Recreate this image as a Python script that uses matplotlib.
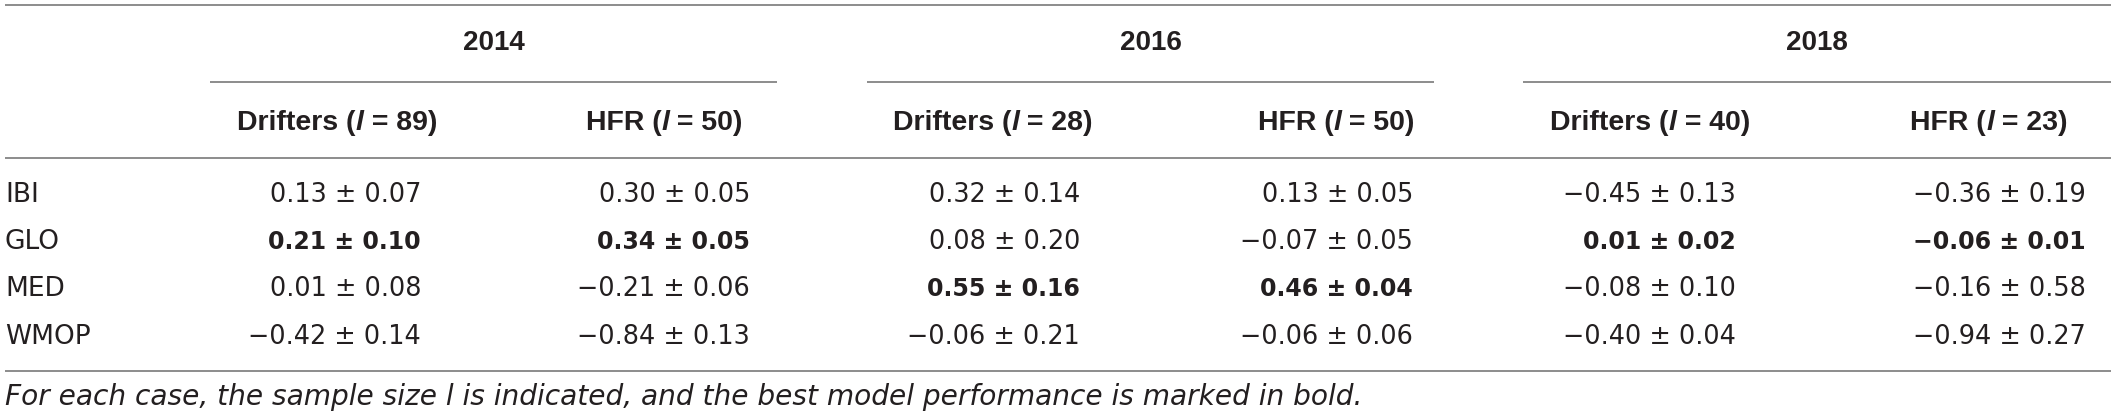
import matplotlib
matplotlib.use("Agg")
import matplotlib.pyplot as plt

# table content
years = ["2014", "2016", "2018"]
sources = ["Drifters", "HFR", "Drifters", "HFR", "Drifters", "HFR"]
sample_sizes = [89, 50, 28, 50, 40, 23]
models = ["IBI", "GLO", "MED", "WMOP"]
means = [
    [0.13, 0.30, 0.32, 0.13, -0.45, -0.36],
    [0.21, 0.34, 0.08, -0.07, 0.01, -0.06],
    [0.01, -0.21, 0.55, 0.46, -0.08, -0.16],
    [-0.42, -0.84, -0.06, -0.06, -0.40, -0.94],
]
errors = [
    [0.07, 0.05, 0.14, 0.05, 0.13, 0.19],
    [0.10, 0.05, 0.20, 0.05, 0.02, 0.01],
    [0.08, 0.06, 0.16, 0.04, 0.10, 0.58],
    [0.14, 0.13, 0.21, 0.06, 0.04, 0.27],
]
# index of best model (bold) per column
best = [1, 1, 2, 2, 1, 1]
footnote = "For each case, the sample size l is indicated, and the best model performance is marked in bold."

W, H = 2117, 420
fig = plt.figure(figsize=(W / 100, H / 100), dpi=100)
ax = fig.add_axes([0, 0, 1, 1])
ax.set_xlim(0, W)
ax.set_ylim(H, 0)
ax.axis("off")

HEAD = "Liberation Sans"
BODY = "DejaVu Sans"
LINE = "#8c8c8c"
TXT = "#231f20"

# layout (pixels)
year_spans = [(210, 777), (867, 1434), (1523, 2111)]
head_cx = [337, 664, 993, 1336, 1650, 1989]
val_right = [421, 750, 1080, 1413, 1736, 2086]
row_y = [195, 242, 289, 337]

# rules
for y in [5, 158, 371]:
    ax.plot([5, 2111], [y, y], color=LINE, lw=1.4, solid_capstyle="butt")
for (x0, x1), yr in zip(year_spans, years):
    ax.plot([x0, x1], [82, 82], color=LINE, lw=1.4, solid_capstyle="butt")
    ax.text((x0 + x1) / 2, 43, yr, ha="center", va="center", fontsize=20,
            fontweight="bold", family=HEAD, color=TXT)

# column headers: bold with italic l, centred
fig.canvas.draw()
rend = fig.canvas.get_renderer()
for cx, src, n in zip(head_cx, sources, sample_sizes):
    parts = [(src + " (", "normal"), ("l", "italic"), (" = %d)" % n, "normal")]
    arts = []
    for s, st in parts:
        t = ax.text(0, 123, s, ha="left", va="center", fontsize=20.5, fontweight="bold",
                    style=st, family=HEAD, color=TXT)
        arts.append(t)
    widths = [a.get_window_extent(rend).width for a in arts]
    x = cx - sum(widths) / 2
    for a, w in zip(arts, widths):
        a.set_x(x)
        x += w

# rows
def fmt(v):
    s = "%.2f" % abs(v)
    return ("\u2212" + s) if v < 0 else s

for i, (m, y) in enumerate(zip(models, row_y)):
    ax.text(5, y, m, ha="left", va="center", fontsize=19, family=BODY, color=TXT)
    for j, xr in enumerate(val_right):
        bold = best[j] == i
        ax.text(xr, y, "%s \u00b1 %.2f" % (fmt(means[i][j]), errors[i][j]),
                ha="right", va="center", fontsize=17 if bold else 18.4,
                fontweight="bold" if bold else "normal", family=BODY, color=TXT)

ax.text(5, 397, footnote, ha="left", va="center", fontsize=20.2, style="italic",
        family=BODY, color=TXT)

fig.savefig("out.png", dpi=100)
